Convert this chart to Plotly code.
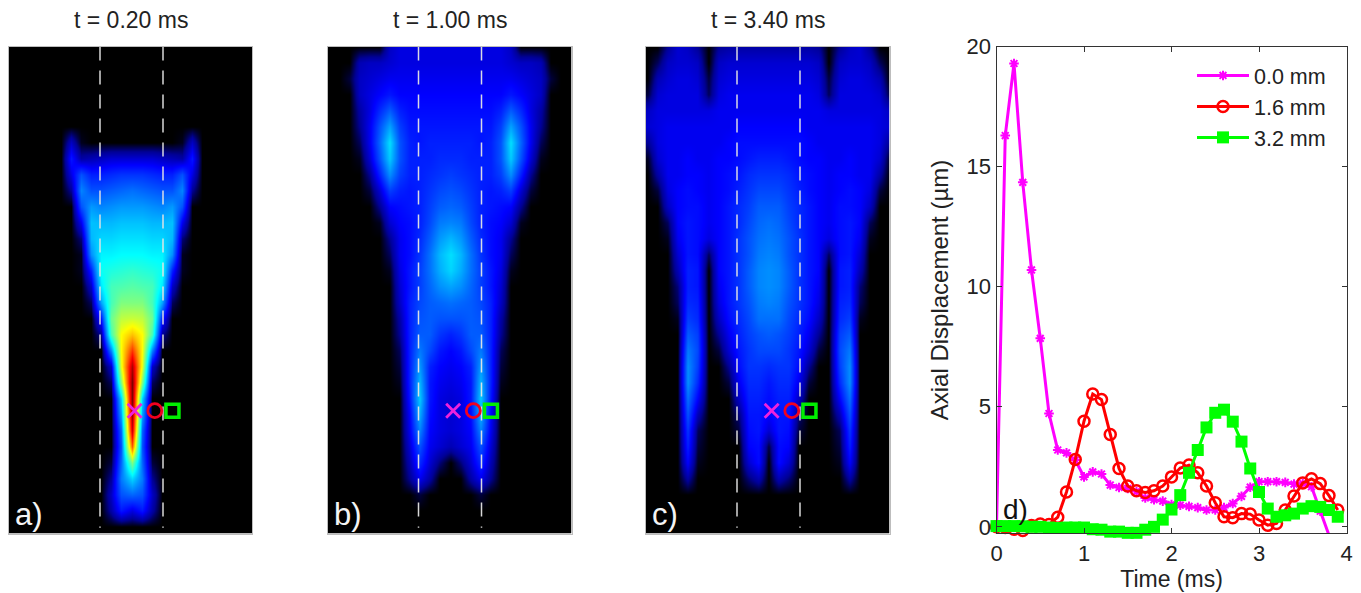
import plotly.graph_objects as go

W, H = 1361, 593
FONT = "Liberation Sans"
PX_PER_MM = 12.6

# ---- line chart values (panel d) ----
TIME_MS = [0.0,0.1,0.2,0.3,0.4,0.5,0.6,0.7,0.8,0.9,1.0,1.1,1.2,1.3,1.4,1.5,1.6,1.7,1.8,1.9,
           2.0,2.1,2.2,2.3,2.4,2.5,2.6,2.7,2.8,2.9,3.0,3.1,3.2,3.3,3.4,3.5,3.6,3.7,3.8,3.9]
DISP_0_0 = [0,16.3,19.3,14.35,10.7,7.85,4.72,3.2,3.08,2.78,2.08,2.29,2.2,1.74,1.64,1.6,1.47,1.2,1.13,1.07,
            0.93,0.9,0.85,0.8,0.7,0.7,0.8,0.97,1.27,1.65,1.88,1.88,1.88,1.85,1.78,1.8,1.67,0.65,-0.35,-1.2]
DISP_1_6 = [0,-0.03,-0.1,-0.15,0.05,0.12,0.1,0.4,1.45,2.8,4.4,5.53,5.3,3.85,2.43,1.7,1.5,1.43,1.5,1.7,
            2.08,2.45,2.57,2.25,1.7,1.0,0.42,0.38,0.55,0.53,0.28,0.07,0.14,0.7,1.28,1.83,2.0,1.8,1.3,0.7]
DISP_3_2 = [0.03,0.03,0.03,0.02,0,0,-0.03,-0.05,-0.03,-0.03,-0.03,-0.1,-0.12,-0.2,-0.2,-0.25,-0.25,-0.12,0,0.3,
            0.72,1.32,2.25,3.2,4.14,4.75,4.88,4.38,3.55,2.43,1.45,0.76,0.42,0.48,0.55,0.76,0.86,0.83,0.7,0.42]
SERIES_NAMES = ["0.0 mm", "1.6 mm", "3.2 mm"]
X_TICKS = [0, 1, 2, 3, 4]
Y_TICKS = [0, 5, 10, 15, 20]

# ---- field maps: half tables, centre line outward, mirrored about the axis ----
LATERAL_MM = [0,0.8,1.6,2.4,3.2,4.0,4.8,5.6,6.4,7.2,8.0,8.8,9.6]
DEPTH_MM = [0,1.27,2.54,3.81,5.08,6.35,7.62,8.89,10.16,11.43,12.7,13.97,15.24,16.51,17.78,19.05,20.32,
            21.59,22.86,24.13,25.4,26.67,27.94,29.21,30.48,31.75,33.02,34.29,35.56,36.83,38.1]

FIELD_A = [
 [],[],[],[],[],[],
 [0,0,0,0,0,1,8],
 [9,9,9,8,7,6,14],
 [17,17,16,15,15,20,10],
 [23,22,21,20,20,25,5],
 [27,27,26,25,27,20],
 [31,31,30,30,31,11],
 [34,34,33,33,30,4],
 [37,37,36,36,26,1],
 [42,41,40,38,15,1],
 [46,45,44,35,8],
 [50,50,44,28,3],
 [57,56,48,14],
 [68,62,44,5],
 [82,62,25],
 [95,60,8],
 [100,50,3],
 [100,33],
 [97,28],
 [92,22],
 [78,20],
 [50,22,2],
 [33,24,5],
 [22,20,8],
 [10,14,6],
 [],
]
FIELD_B = [
 [10,10,10,10,10,10,8],
 [10,10,10,10,10,10,9,8,8,7],
 [11,11,11,11,11,11,11,10,9,8,2],
 [12,12,12,12,12,12,14,12,10,8],
 [13,13,13,13,13,15,21,16,10,6],
 [14,14,14,14,14,18,28,20,11,5],
 [15,15,15,14,15,20,34,22,11,3],
 [16,16,15,15,15,20,32,20,9,1],
 [18,17,16,15,15,18,26,15,5],
 [20,19,17,15,14,15,18,9,2],
 [22,21,18,15,14,13,12,5],
 [25,24,19,15,13,12,9,1],
 [30,27,21,16,13,11,5],
 [34,30,23,17,13,11,3],
 [33,29,23,18,14,10,1],
 [28,26,22,18,14,9],
 [23,22,21,19,15,8],
 [20,20,21,20,15,6],
 [15,17,21,21,15,5],
 [12,14,19,24,15,3],
 [11,12,15,27,15,2],
 [10,11,14,30,15,1],
 [9,10,14,32,14],
 [9,10,13,29,12],
 [9,10,12,25,11],
 [7,9,11,20,9],
 [0,4,9,16,7],
 [0,0,6,11,5],
 [0,0,0,2],
 [],[],
]
FIELD_C = [
 [6,6,6,6,6,5,0,5,8,9,5],
 [9,9,9,9,9,8,0,8,9,9,8,3],
 [10,10,10,10,10,9,2,9,10,10,9,7],
 [11,11,11,11,11,10,3,10,10,10,10,9,2],
 [11,11,11,11,11,11,10,10,10,10,10,10,8],
 [12,12,12,12,11,11,11,11,11,11,11,10,9],
 [13,13,13,13,12,11,11,11,11,11,11,10,5],
 [15,15,14,13,12,12,11,11,12,11,11,9,1],
 [17,17,16,14,13,12,11,12,12,11,11,6],
 [19,19,17,15,13,12,11,12,13,12,10,2],
 [21,21,18,16,14,12,11,13,13,12,8],
 [23,22,19,16,14,12,11,13,14,12,3],
 [24,23,20,17,14,12,10,13,14,11,1],
 [25,24,20,17,14,12,3,13,14,9],
 [26,25,21,17,14,12,0,14,15,7],
 [26,25,21,17,14,11,0,14,15,4],
 [25,24,20,17,14,10,0,15,16,3],
 [23,23,19,16,13,8,0,16,18,1],
 [21,20,18,15,11,5,0,18,21],
 [19,19,17,14,9,2,0,19,24],
 [16,17,17,13,5,0,0,18,26],
 [14,16,16,11,2,0,0,16,26],
 [13,15,15,8,0,0,0,12,23],
 [12,14,14,4,0,0,0,7,20],
 [9,14,13,2,0,0,0,3,17],
 [2,13,12,0,0,0,0,2,15],
 [0,13,9,0,0,0,0,1,12],
 [0,7,4,0,0,0,0,0,6],
 [],[],[],
]
PANEL_TITLES = ["t = 0.20 ms", "t = 1.00 ms", "t = 3.40 ms"]
PANEL_TAGS = ["a)", "b)", "c)"]
TARGET_MM = [0.25, 1.85, 3.25]
TARGET_DEPTH_MM = 28.9
GUIDE_MM = [-2.5, 2.5]

JET = [[0,"#000000"],[0.02,"#00003c"],[0.05,"#000096"],[0.12,"#0000ff"],[0.37,"#00ffff"],
       [0.5,"#7fff7f"],[0.62,"#ffff00"],[0.87,"#ff0000"],[1,"#800000"]]

def mirror(field):
    n = len(LATERAL_MM)
    rows = [r + [0]*(n-len(r)) for r in field]
    return [r[:0:-1] + r for r in rows]

xs = [-v for v in LATERAL_MM[:0:-1]] + LATERAL_MM

PANELS = [  # left, right, centre px
    (9, 252, 131.5), (327.5, 571.5, 450), (645.5, 889.5, 768.5)
]
TOP, BOTTOM = 46.5, 533.5

fig = go.Figure()
layout = dict(width=W, height=H, margin=dict(l=0,r=0,t=0,b=0,autoexpand=False), paper_bgcolor="white", plot_bgcolor="white",
              font=dict(family=FONT, color="#222222"), annotations=[], showlegend=True)

def ydom(t, b):
    return [1-b/H, 1-t/H]

for i, (field, (l, r, c)) in enumerate(zip([FIELD_A, FIELD_B, FIELD_C], PANELS), start=1):
    xa, ya = f"x{i}", f"y{i}"
    fig.add_trace(go.Heatmap(x=xs, y=DEPTH_MM, z=mirror(field), colorscale=JET, zmin=0, zmax=100,
                             zsmooth="best", showscale=False, hoverinfo="skip", xaxis=xa, yaxis=ya))
    for g in GUIDE_MM:
        fig.add_trace(go.Scatter(x=[g, g], y=[0, 38.2], mode="lines", showlegend=False, hoverinfo="skip",
                                 line=dict(color="rgba(228,228,228,0.95)", width=1.5, dash="14px,10px"),
                                 xaxis=xa, yaxis=ya))
    for xm, sym, col, size, lw in zip(TARGET_MM, ["x-thin-open","circle-open","square-open"],
                                      ["#ee22dd","#f00020","#00ee00"], [14,14,13], [2.8,2.8,3.5]):
        fig.add_trace(go.Scatter(x=[xm], y=[TARGET_DEPTH_MM], mode="markers", showlegend=False, hoverinfo="skip",
                                 marker=dict(symbol=sym, size=size, color=col, line=dict(color=col, width=lw)),
                                 xaxis=xa, yaxis=ya))
    ax = dict(showline=True, linecolor="#bdbdbd", linewidth=1, mirror=True, showgrid=False, zeroline=False,
              showticklabels=False, ticks="")
    layout[f"xaxis{i}"] = dict(ax, domain=[l/W, r/W], range=[(l-c)/PX_PER_MM, (r-c)/PX_PER_MM], anchor=ya)
    layout[f"yaxis{i}"] = dict(ax, domain=ydom(TOP, BOTTOM), range=[(BOTTOM-TOP)/PX_PER_MM, 0], anchor=xa)
    layout["annotations"].append(dict(text=PANEL_TITLES[i-1], xref="paper", yref="paper", x=(l+r)/2/W, y=1-20/H,
                                      showarrow=False, font=dict(size=23, color="#222222"), xanchor="center", yanchor="middle"))
    layout["annotations"].append(dict(text=PANEL_TAGS[i-1], xref="paper", yref="paper", x=(l+4)/W, y=1-514/H,
                                      showarrow=False, font=dict(size=31, color="#f4f4f4"), xanchor="left", yanchor="middle"))

STYLES = [
    (DISP_0_0, "#ff00ff", "asterisk-open", 8, 2, True),
    (DISP_1_6, "#ff0000", "circle-open", 11, 2.5, False),
    (DISP_3_2, "#00ff00", "square", 12, 0, False),
]
for name, (vals, col, sym, size, lw, clip) in zip(SERIES_NAMES, STYLES):
    fig.add_trace(go.Scatter(x=TIME_MS, y=vals, mode="lines+markers", name=name, cliponaxis=clip,
                             line=dict(color=col, width=3),
                             marker=dict(symbol=sym, size=size, color=col, line=dict(color=col, width=lw)),
                             xaxis="x4", yaxis="y4"))

layout["xaxis4"] = dict(domain=[996.5/W, 1346.5/W], range=[0, 4], tickvals=X_TICKS, anchor="y4", showline=True,
                        linecolor="#333333", linewidth=1, mirror="allticks", ticks="inside", ticklen=5,
                        tickcolor="#333333", showgrid=False, zeroline=False, tickfont=dict(size=22), automargin=False,
                        title=dict(text="Time (ms)", font=dict(size=23), standoff=3))
layout["yaxis4"] = dict(domain=ydom(46.7, 533.3), range=[-0.27, 20], tickvals=Y_TICKS, anchor="x4", showline=True,
                        linecolor="#333333", linewidth=1, mirror="allticks", ticks="inside", ticklen=5,
                        tickcolor="#333333", showgrid=False, zeroline=False, tickfont=dict(size=22), automargin=False,
                        title=dict(text="Axial Displacement (µm)", font=dict(size=24), standoff=11))
layout["annotations"].append(dict(text="d)", xref="paper", yref="paper", x=1001/W, y=1-509/H, showarrow=False,
                                  font=dict(size=28, color="#111111"), xanchor="left", yanchor="middle"))
layout["legend"] = dict(x=1192/W, y=1-55/H, xanchor="left", yanchor="top", bgcolor="rgba(0,0,0,0)",
                        font=dict(size=21.5, color="#222222"), itemwidth=52, tracegroupgap=0)
fig.update_layout(**layout)
fig.write_html("out.html", post_script="document.body.style.margin='0';", config=dict(displayModeBar=False))
